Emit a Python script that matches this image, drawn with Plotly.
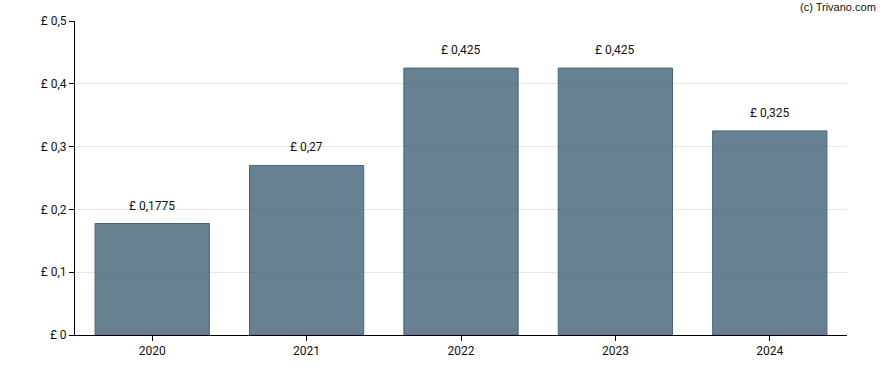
import plotly.graph_objects as go

years = ["2020", "2021", "2022", "2023", "2024"]
values = [0.1775, 0.27, 0.425, 0.425, 0.325]
value_labels = ["£ 0,1775", "£ 0,27", "£ 0,425", "£ 0,425", "£ 0,325"]
ytick_vals = [0, 0.1, 0.2, 0.3, 0.4, 0.5]
ytick_text = ["£ 0", "£ 0,1", "£ 0,2", "£ 0,3", "£ 0,4", "£ 0,5"]

fig = go.Figure()
fig.add_trace(go.Bar(
    x=years, y=values,
    marker=dict(color="rgba(52,86,110,0.75)", line=dict(color="#4a6378", width=1)),
    hoverinfo="skip",
))
for i, (y, t) in enumerate(zip(values, value_labels)):
    fig.add_annotation(x=i, y=y, text=t, showarrow=False, yanchor="bottom",
                       yshift=9, font=dict(family="Roboto", size=12, color="#111"))

fig.add_annotation(xref="paper", yref="paper", x=1.0, xshift=31, y=1.0, yshift=14,
                   xanchor="right", yanchor="middle", text="(c) Trivano.com",
                   showarrow=False, font=dict(family="Liberation Sans", size=11, color="#111"))

fig.update_layout(
    width=888, height=370,
    margin=dict(l=75, r=41, t=21, b=35),
    paper_bgcolor="white", plot_bgcolor="white",
    bargap=0.26, showlegend=False,
    font=dict(family="Roboto", size=12, color="#111"),
)
fig.update_xaxes(type="category", range=[-0.5, 4.5], showline=True, linecolor="black",
                 linewidth=1, ticks="outside", ticklen=5, tickcolor="black",
                 showgrid=False, tickfont=dict(size=12))
fig.update_yaxes(range=[0, 0.5], tickvals=ytick_vals, ticktext=ytick_text,
                 showline=True, linecolor="black", linewidth=1, ticks="outside",
                 ticklen=5, tickcolor="black", showgrid=True, gridcolor="#e6e6e6",
                 zeroline=False, tickfont=dict(size=12))

fig.write_html("out.html")
